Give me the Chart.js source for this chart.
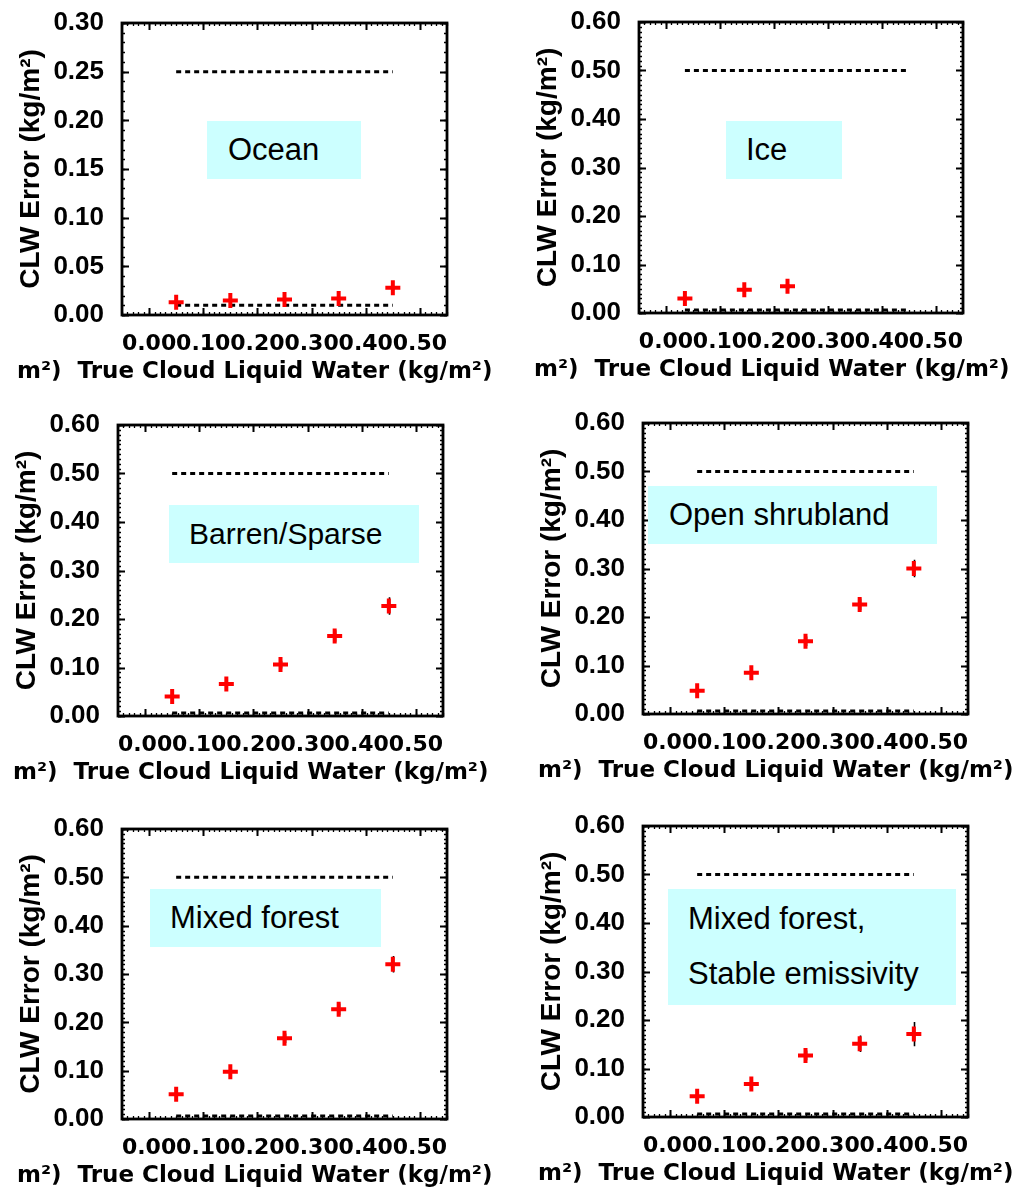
<!DOCTYPE html>
<html><head><meta charset="utf-8">
<script src="https://cdn.jsdelivr.net/npm/chart.js@4.4.1/dist/chart.umd.min.js"></script>
<style>
html,body{margin:0;padding:0;background:#fff;width:1021px;height:1192px;overflow:hidden;position:relative}
canvas{position:absolute}
.lbl{position:absolute;background:#ccffff;font-family:'Liberation Sans',Arial,sans-serif;font-size:31px;color:#000;white-space:nowrap;box-sizing:border-box;overflow:visible}
</style></head><body>
<script>
// ---------------- data ----------------
const xTickLabels = ['0.00','0.10','0.20','0.30','0.40','0.50'];
const yTickLabelsOcean = ['0.00','0.05','0.10','0.15','0.20','0.25','0.30'];
const yTickLabelsLand = ['0.00','0.10','0.20','0.30','0.40','0.50','0.60'];

const oceanX = [0.05, 0.15, 0.25, 0.35, 0.45];
const oceanY = [0.013, 0.015, 0.016, 0.017, 0.028];
const oceanErr = [0.001, 0.001, 0.001, 0.001, 0.002];

const iceX = [0.035, 0.145, 0.225];
const iceY = [0.030, 0.048, 0.055];
const iceErr = [0.003, 0.004, 0.005];

const barrenX = [0.05, 0.15, 0.25, 0.35, 0.45];
const barrenY = [0.040, 0.066, 0.106, 0.165, 0.227];
const barrenErr = [0.004, 0.006, 0.008, 0.012, 0.018];

const shrubX = [0.05, 0.15, 0.25, 0.35, 0.45];
const shrubY = [0.048, 0.085, 0.150, 0.226, 0.300];
const shrubErr = [0.005, 0.008, 0.010, 0.012, 0.018];

const mixedX = [0.05, 0.15, 0.25, 0.35, 0.45];
const mixedY = [0.051, 0.098, 0.167, 0.227, 0.320];
const mixedErr = [0.005, 0.007, 0.010, 0.012, 0.017];

const stableX = [0.05, 0.15, 0.25, 0.35, 0.45];
const stableY = [0.043, 0.068, 0.127, 0.151, 0.171];
const stableErr = [0.004, 0.006, 0.010, 0.017, 0.025];

// reference (dotted) lines: x extent and y levels
const oceanRefX = [0.05, 0.45];  const oceanRefY = [0.25, 0.010];
const iceRefX = [0.035, 0.45];   const iceRefY = [0.50, 0.006];
const landRefX = [0.05, 0.45];   const landRefY = [0.50, 0.006];

const panelTitles = ['Ocean', 'Ice', 'Barren/Sparse', 'Open shrubland', 'Mixed forest', 'Mixed forest,\nStable emissivity'];
const xTitle = 'm\u00B2)  True Cloud Liquid Water (kg/m\u00B2)';
const yTitle = 'CLW Error (kg/m\u00B2)';

// ---------------- layout ----------------
const panels = [
  {rect:[122,16,447,315],  x:oceanX,  y:oceanY,  err:oceanErr,  refX:oceanRefX, refY:oceanRefY, yLabels:yTickLabelsOcean, title:0,
   box:{l:207,t:121,w:154,h:58,pl:21,pt:0,lh:58,fs:31}},
  {rect:[639,15,963,313],  x:iceX,    y:iceY,    err:iceErr,    refX:iceRefX,   refY:iceRefY,   yLabels:yTickLabelsLand, title:1,
   box:{l:726,t:121,w:116,h:58,pl:20,pt:0,lh:58,fs:31}},
  {rect:[118,418,443,716], x:barrenX, y:barrenY, err:barrenErr, refX:landRefX,  refY:landRefY,  yLabels:yTickLabelsLand, title:2,
   box:{l:169,t:505,w:250,h:58,pl:20,pt:0,lh:58,fs:30}},
  {rect:[643,416,968,714], x:shrubX,  y:shrubY,  err:shrubErr,  refX:landRefX,  refY:landRefY,  yLabels:yTickLabelsLand, title:3,
   box:{l:648,t:486,w:289,h:58,pl:21,pt:0,lh:58,fs:31}},
  {rect:[122,822,447,1119],x:mixedX,  y:mixedY,  err:mixedErr,  refX:landRefX,  refY:landRefY,  yLabels:yTickLabelsLand, title:4,
   box:{l:150,t:889,w:231,h:58,pl:20,pt:0,lh:58,fs:31}},
  {rect:[643,819,968,1117],x:stableX, y:stableY, err:stableErr, refX:landRefX,  refY:landRefY,  yLabels:yTickLabelsLand, title:5,
   box:{l:668,t:889,w:288,h:116,pl:20,pt:2,lh:55,fs:31}}
];

const X_MIN = -0.05, X_MAX = 0.55, MINOR = 0.01;

const idlFrame = {
  id: 'idlFrame',
  beforeDatasetsDraw(chart, args, opts) {
    const {ctx, chartArea: a, scales: {x, y}} = chart;
    ctx.save();
    ctx.strokeStyle = '#000';
    // minor ticks
    ctx.lineWidth = 1.3;
    ctx.beginPath();
    for (let k = 0; X_MIN + k * MINOR <= X_MAX + 1e-9; k++) {
      const px = Math.round(x.getPixelForValue(X_MIN + k * MINOR)) + 0.5;
      ctx.moveTo(px, a.bottom); ctx.lineTo(px, a.bottom - 3);
      ctx.moveTo(px, a.top); ctx.lineTo(px, a.top + 3);
    }
    for (let k = 0; k * MINOR <= y.max + 1e-9; k++) {
      const py = Math.round(y.getPixelForValue(k * MINOR)) + 0.5;
      ctx.moveTo(a.left, py); ctx.lineTo(a.left + 3, py);
      ctx.moveTo(a.right, py); ctx.lineTo(a.right - 3, py);
    }
    ctx.stroke();
    // major ticks
    ctx.lineWidth = 2;
    ctx.beginPath();
    for (const lab of xTickLabels) {
      const px = Math.round(x.getPixelForValue(Number(lab))) + 0.5;
      ctx.moveTo(px, a.bottom); ctx.lineTo(px, a.bottom - 7);
      ctx.moveTo(px, a.top); ctx.lineTo(px, a.top + 7);
    }
    for (const lab of opts.yLabels) {
      const py = Math.round(y.getPixelForValue(Number(lab))) + 0.5;
      ctx.moveTo(a.left, py); ctx.lineTo(a.left + 7, py);
      ctx.moveTo(a.right, py); ctx.lineTo(a.right - 7, py);
    }
    ctx.stroke();
    // frame
    ctx.lineWidth = 2.8;
    ctx.strokeRect(a.left, a.top, a.right - a.left, a.bottom - a.top);
    // error bars
    chart.data.datasets.forEach((ds, i) => {
      if (!ds.errors) return;
      const meta = chart.getDatasetMeta(i);
      ctx.lineWidth = 1.6;
      ctx.beginPath();
      meta.data.forEach((pt, j) => {
        const v = ds.data[j].y, e = ds.errors[j];
        const px = Math.round(pt.x) + 0.5;
        ctx.moveTo(px, y.getPixelForValue(v - e));
        ctx.lineTo(px, y.getPixelForValue(v + e));
      });
      ctx.stroke();
    });
    ctx.restore();
  }
};

const LEFT = 105, TOP = 16, XH = 40, TFS = 23, TLH = 1.2, TPAD = 3;

panels.forEach(p => {
  const [pl, pt, pr, pb] = p.rect;
  const plotW = pr - pl, plotH = pb - pt;
  const W = 105 + plotW + 75;
  const titleH = TFS * TLH + TPAD;
  const H = Math.round(TOP + plotH + XH + titleH + 8);
  const padB = H - TOP - plotH - XH - titleH;
  const rightW = W - LEFT - plotW;
  const cv = document.createElement('canvas');
  cv.width = W; cv.height = H;
  cv.style.width = W + 'px'; cv.style.height = H + 'px';
  cv.style.left = (pl - LEFT) + 'px'; cv.style.top = (pt - TOP) + 'px';
  document.body.appendChild(cv);

  const pts = p.x.map((v, i) => ({x: v, y: p.y[i]}));
  const yMax = Number(p.yLabels[p.yLabels.length - 1]);

  new Chart(cv, {
    type: 'scatter',
    data: {
      datasets: [
        {data: p.refX.map(v => ({x: v, y: p.refY[0]})), showLine: true, borderColor: '#000', borderWidth: 3,
         borderDash: [5, 4], pointRadius: 0, order: 2},
        {data: p.refX.map(v => ({x: v, y: p.refY[1]})), showLine: true, borderColor: '#000', borderWidth: 3,
         borderDash: [5, 4], pointRadius: 0, order: 2},
        {data: pts, errors: p.err, pointStyle: 'cross', pointRadius: 7.5, borderColor: '#ff0000',
         borderWidth: 4, backgroundColor: '#ff0000', order: 1}
      ]
    },
    options: {
      responsive: false, animation: false, devicePixelRatio: 1,
      layout: {padding: {left: 0, right: 0, top: TOP, bottom: padB}},
      plugins: {
        legend: {display: false}, tooltip: {enabled: false},
        title: {display: true, position: 'bottom', align: 'start', text: xTitle, color: '#000',
                font: {family: "'DejaVu Sans', sans-serif", weight: 'bold', size: TFS, lineHeight: TLH},
                padding: {top: TPAD, bottom: 0}},
        idlFrame: {yLabels: p.yLabels}
      },
      scales: {
        x: {
          type: 'linear', position: 'bottom', min: X_MIN, max: X_MAX,
          grid: {display: false}, border: {display: false},
          afterBuildTicks: s => { s.ticks = xTickLabels.map(l => ({value: Number(l)})); },
          afterFit: s => { s.height = XH; },
          ticks: {autoSkip: false, maxRotation: 0, minRotation: 0, padding: 10, color: '#000',
                  font: {family: "'DejaVu Sans', sans-serif", weight: 'bold', size: 22, lineHeight: 1},
                  callback: (v, i) => xTickLabels[i]}
        },
        y: {
          type: 'linear', position: 'left', min: 0, max: yMax,
          grid: {display: false}, border: {display: false},
          afterBuildTicks: s => { s.ticks = p.yLabels.map(l => ({value: Number(l)})); },
          afterFit: s => { s.width = LEFT; },
          title: {display: true, text: yTitle, color: '#000', padding: {top: 0, bottom: 0},
                  font: {family: "'Liberation Sans', Arial, sans-serif", weight: 'bold', size: 28, lineHeight: 1}},
          ticks: {autoSkip: false, padding: 10, color: '#000',
                  font: {family: "'Liberation Sans', Arial, sans-serif", weight: 'bold', size: 26, lineHeight: 1},
                  callback: (v, i) => p.yLabels[i]}
        },
        yr: {
          type: 'linear', position: 'right', min: 0, max: yMax, display: true,
          grid: {display: false}, border: {display: false}, ticks: {display: false},
          afterFit: s => { s.width = rightW; }
        }
      }
    },
    plugins: [idlFrame]
  });

  const b = p.box;
  const d = document.createElement('div');
  d.className = 'lbl';
  d.style.left = b.l + 'px'; d.style.top = b.t + 'px';
  d.style.width = b.w + 'px'; d.style.height = b.h + 'px';
  d.style.paddingLeft = b.pl + 'px'; d.style.paddingTop = b.pt + 'px';
  d.style.lineHeight = b.lh + 'px'; d.style.fontSize = b.fs + 'px';
  panelTitles[p.title].split('\n').forEach((line, i) => {
    if (i) d.appendChild(document.createElement('br'));
    d.appendChild(document.createTextNode(line));
  });
  document.body.appendChild(d);
});
</script>
</body></html>
